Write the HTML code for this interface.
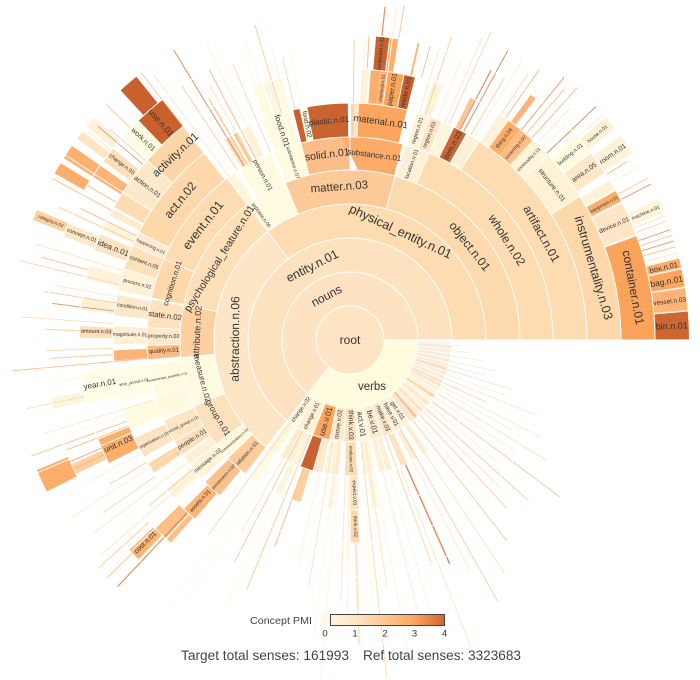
<!DOCTYPE html>
<html><head><meta charset="utf-8">
<style>
html,body{margin:0;padding:0;background:#fff;width:700px;height:680px;overflow:hidden;}
svg{display:block;overflow:hidden}
circle.s{fill:none;stroke-width:34px}
text{font-family:"Liberation Sans",Arial,sans-serif;fill:#333;text-anchor:middle;dominant-baseline:central}
line.w{stroke:#fff;stroke-width:1}
</style></head><body>
<svg width="700" height="680" viewBox="0 0 700 680" xmlns="http://www.w3.org/2000/svg">
<defs>
<linearGradient id="cg" x1="0" x2="1" y1="0" y2="0">
<stop offset="0" stop-color="#fff4de"/>
<stop offset="0.25" stop-color="#fde3c0"/>
<stop offset="0.5" stop-color="#fdc690"/>
<stop offset="0.75" stop-color="#fca259"/>
<stop offset="1" stop-color="#d0642f"/>
</linearGradient>
</defs>
<g transform="translate(350,340)">
<circle r="34" fill="#fde4c3"/>
<!-- L2 -->
<circle class="s" pathLength="360" r="51" stroke="#fffbdf" stroke-dasharray="0 0 128 360"/>
<circle class="s" pathLength="360" r="51" stroke="#fde3c1" stroke-dasharray="0 128 232 360"/>
<!-- L3 -->
<circle class="s" pathLength="360" r="85" stroke="#fde2bf" stroke-dasharray="0 128 232 360"/>
<circle class="s" pathLength="360" r="85" stroke="#fef5da" stroke-dasharray="0 121.5 6.5 360"/>
<circle class="s" pathLength="360" r="85" stroke="#fef0d2" stroke-dasharray="0 111.5 10 360"/>
<circle class="s" pathLength="360" r="85" stroke="#fca55c" stroke-dasharray="0 101.5 10 360"/>
<circle class="s" pathLength="360" r="85" stroke="#fde9cc" stroke-dasharray="0 93.5 8 360"/>
<circle class="s" pathLength="360" r="85" stroke="#fde2bf" stroke-dasharray="0 86 7.5 360"/>
<circle class="s" pathLength="360" r="85" stroke="#fff8de" stroke-dasharray="0 78.5 7.5 360"/>
<circle class="s" pathLength="360" r="85" stroke="#fdecd2" stroke-dasharray="0 71 7.5 360"/>
<circle class="s" pathLength="360" r="85" stroke="#fde5c5" stroke-dasharray="0 64.5 6.5 360"/>
<circle class="s" pathLength="360" r="85" stroke="#fdecd2" stroke-dasharray="0 59 5.5 360"/>
<circle class="s" pathLength="360" r="85" stroke="#fef2d8" stroke-dasharray="0 54 5 360"/>
<circle class="s" pathLength="360" r="85" stroke="#fde6c6" stroke-dasharray="0 51 2.5 360"/>
<circle class="s" pathLength="360" r="85" stroke="#fdc591" stroke-dasharray="0 48.5 2 360"/>
<circle class="s" pathLength="360" r="85" stroke="#fef0d4" stroke-dasharray="0 46 2 360"/>
<circle class="s" pathLength="360" r="85" stroke="#fde3c1" stroke-dasharray="0 43.5 2 360"/>
<circle class="s" pathLength="360" r="85" stroke="#fef4da" stroke-dasharray="0 41 2 360"/>
<circle class="s" pathLength="360" r="85" stroke="#fdebd0" stroke-dasharray="0 38 2.5 360"/>
<circle class="s" pathLength="360" r="85" stroke="#fef6dc" stroke-dasharray="0 35.5 2 360"/>
<circle class="s" pathLength="360" r="85" stroke="#fdd9ad" stroke-dasharray="0 33 2 360"/>
<circle class="s" pathLength="360" r="85" stroke="#fef3d8" stroke-dasharray="0 30.5 2 360"/>
<circle class="s" pathLength="360" r="85" stroke="#fdf3e6" stroke-dasharray="0 28 2 360"/>
<circle class="s" pathLength="360" r="85" stroke="#fde6c6" stroke-dasharray="0 25.5 2 360"/>
<circle class="s" pathLength="360" r="85" stroke="#f9efe3" stroke-dasharray="0 23 2 360"/>
<circle class="s" pathLength="360" r="85" stroke="#fdeed8" stroke-dasharray="0 20.5 2 360"/>
<circle class="s" pathLength="360" r="85" stroke="#f7efe6" stroke-dasharray="0 18 2 360"/>
<circle class="s" pathLength="360" r="85" stroke="#fde3c1" stroke-dasharray="0 15.5 2 360"/>
<circle class="s" pathLength="360" r="85" stroke="#f9f1e8" stroke-dasharray="0 13 2 360"/>
<circle class="s" pathLength="360" r="85" stroke="#fdecd2" stroke-dasharray="0 10.5 2 360"/>
<circle class="s" pathLength="360" r="85" stroke="#f7efe6" stroke-dasharray="0 8 2 360"/>
<circle class="s" pathLength="360" r="85" stroke="#fdf1df" stroke-dasharray="0 5.5 2 360"/>
<circle class="s" pathLength="360" r="85" stroke="#f5ede4" stroke-dasharray="0 3 2 360"/>
<circle class="s" pathLength="360" r="85" stroke="#fdf3e6" stroke-dasharray="0 0.8 1.7 360"/>
<!-- L4 -->
<circle class="s" pathLength="360" r="119" stroke="#fde6c6" stroke-dasharray="0 128 104.8 360"/>
<circle class="s" pathLength="360" r="119" stroke="#fddcb1" stroke-dasharray="0 232.8 127.2 360"/>
<circle class="s" pathLength="360" r="119" stroke="#fef7de" stroke-dasharray="0 123 4 360"/>
<circle class="s" pathLength="360" r="119" stroke="#fdf0d6" stroke-dasharray="0 118 3 360"/>
<circle class="s" pathLength="360" r="119" stroke="#fef3d8" stroke-dasharray="0 113 4.5 360"/>
<circle class="s" pathLength="360" r="119" stroke="#c9622f" stroke-dasharray="0 106 5.5 360"/>
<circle class="s" pathLength="360" r="119" stroke="#fde7c8" stroke-dasharray="0 102 3.5 360"/>
<circle class="s" pathLength="360" r="119" stroke="#fef4da" stroke-dasharray="0 98.5 2.5 360"/>
<circle class="s" pathLength="360" r="119" stroke="#fdebd0" stroke-dasharray="0 95 3 360"/>
<circle class="s" pathLength="360" r="119" stroke="#fdd9ad" stroke-dasharray="0 87 5 360"/>
<circle class="s" pathLength="360" r="119" stroke="#fff7dc" stroke-dasharray="0 80 4 360"/>
<circle class="s" pathLength="360" r="119" stroke="#fef3d8" stroke-dasharray="0 75 2.5 360"/>
<circle class="s" pathLength="360" r="119" stroke="#fdeed4" stroke-dasharray="0 72 2.5 360"/>
<circle class="s" pathLength="360" r="119" stroke="#fde3c1" stroke-dasharray="0 65 3 360"/>
<circle class="s" pathLength="360" r="119" stroke="#fef0d4" stroke-dasharray="0 60 2.5 360"/>
<circle class="s" pathLength="360" r="119" stroke="#fdf0dc" stroke-dasharray="0 55 2.5 360"/>
<!-- L5 -->
<circle class="s" pathLength="360" r="153" stroke="#fdcc9a" stroke-dasharray="0 128 8 360"/>
<circle class="s" pathLength="360" r="153" stroke="#fff8dc" stroke-dasharray="0 136 6 360"/>
<circle class="s" pathLength="360" r="153" stroke="#fde1bd" stroke-dasharray="0 142 15 360"/>
<circle class="s" pathLength="360" r="153" stroke="#fffbe0" stroke-dasharray="0 157 17 360"/>
<circle class="s" pathLength="360" r="153" stroke="#fdd0a0" stroke-dasharray="0 174 18 360"/>
<circle class="s" pathLength="360" r="153" stroke="#fde0b8" stroke-dasharray="0 192 40.8 360"/>
<circle class="s" pathLength="360" r="153" stroke="#fff5da" stroke-dasharray="0 232.8 3.2 360"/>
<circle class="s" pathLength="360" r="153" stroke="#fffbe0" stroke-dasharray="0 236 11.6 360"/>
<circle class="s" pathLength="360" r="153" stroke="#fdc997" stroke-dasharray="0 247.6 37.8 360"/>
<circle class="s" pathLength="360" r="153" stroke="#fdd9ae" stroke-dasharray="0 285.4 74.6 360"/>
<circle class="s" pathLength="360" r="153" stroke="#fde3c1" stroke-dasharray="0 87 3 360"/>
<circle class="s" pathLength="360" r="153" stroke="#fff7dc" stroke-dasharray="0 80.5 2 360"/>
<circle class="s" pathLength="360" r="153" stroke="#fdd0a0" stroke-dasharray="0 107 3 360"/>
<circle class="s" pathLength="360" r="153" stroke="#fef3d8" stroke-dasharray="0 114 2 360"/>
<circle class="s" pathLength="360" r="153" stroke="#fffbe0" stroke-dasharray="0 123.5 2 360"/>
<circle class="s" pathLength="360" r="153" stroke="#fef0d4" stroke-dasharray="0 96 1.5 360"/>
<!-- L6 -->
<circle class="s" pathLength="360" r="186.5" stroke="#fdc08a" stroke-dasharray="0 130 5.5 360"/>
<circle class="s" pathLength="360" r="186.5" stroke="#fef3d5" stroke-dasharray="0 137 5 360"/>
<circle class="s" pathLength="360" r="186.5" stroke="#fef0d4" stroke-dasharray="0 142 3 360"/>
<circle class="s" pathLength="360" r="186.5" stroke="#fde0bb" stroke-dasharray="0 145.5 4.5 360"/>
<circle class="s" pathLength="360" r="186.5" stroke="#fde6c6" stroke-dasharray="0 150 6.5 360"/>
<circle class="s" pathLength="360" r="186.5" stroke="#fff9df" stroke-dasharray="0 157 7 360"/>
<circle class="s" pathLength="360" r="186.5" stroke="#fffbe0" stroke-dasharray="0 164 9 360"/>
<circle class="s" pathLength="360" r="186.5" stroke="#fdbb82" stroke-dasharray="0 174.5 4 360"/>
<circle class="s" pathLength="360" r="186.5" stroke="#fde8c8" stroke-dasharray="0 178.5 5 360"/>
<circle class="s" pathLength="360" r="186.5" stroke="#fde2bd" stroke-dasharray="0 183.5 8 360"/>
<circle class="s" pathLength="360" r="186.5" stroke="#fdd8aa" stroke-dasharray="0 192 11.5 360"/>
<circle class="s" pathLength="360" r="186.5" stroke="#fddcb1" stroke-dasharray="0 203.5 29.3 360"/>
<circle class="s" pathLength="360" r="186.5" stroke="#fef6dc" stroke-dasharray="0 233 2.5 360"/>
<circle class="s" pathLength="360" r="186.5" stroke="#fffbe0" stroke-dasharray="0 237 10 360"/>
<circle class="s" pathLength="360" r="186.5" stroke="#fffbe0" stroke-dasharray="0 248 8 360"/>
<circle class="s" pathLength="360" r="186.5" stroke="#fdbd86" stroke-dasharray="0 256 14 360"/>
<circle class="s" pathLength="360" r="186.5" stroke="#fdab68" stroke-dasharray="0 270 15 360"/>
<circle class="s" pathLength="360" r="186.5" stroke="#fef0d6" stroke-dasharray="0 286 7 360"/>
<circle class="s" pathLength="360" r="186.5" stroke="#fddcb1" stroke-dasharray="0 293 67 360"/>
<circle class="s" pathLength="360" r="186.5" stroke="#fdd9ad" stroke-dasharray="0 87.3 2.5 360"/>
<!-- L7 -->
<circle class="s" pathLength="360" r="220" stroke="#fdb474" stroke-dasharray="0 131 3.5 360"/>
<circle class="s" pathLength="360" r="220" stroke="#fef6dc" stroke-dasharray="0 138 3 360"/>
<circle class="s" pathLength="360" r="220" stroke="#fdd6a8" stroke-dasharray="0 146 2.5 360"/>
<circle class="s" pathLength="360" r="220" stroke="#fde3c1" stroke-dasharray="0 150.5 5 360"/>
<circle class="s" pathLength="360" r="220" stroke="#fffbe0" stroke-dasharray="0 158 5 360"/>
<circle class="s" pathLength="360" r="220" stroke="#fffde6" stroke-dasharray="0 165 8 360"/>
<circle class="s" pathLength="360" r="220" stroke="#fdb476" stroke-dasharray="0 175 2.5 360"/>
<circle class="s" pathLength="360" r="220" stroke="#fef0d4" stroke-dasharray="0 179 4.5 360"/>
<circle class="s" pathLength="360" r="220" stroke="#fde9c9" stroke-dasharray="0 186 5 360"/>
<circle class="s" pathLength="360" r="220" stroke="#fef1d6" stroke-dasharray="0 192 5.5 360"/>
<circle class="s" pathLength="360" r="220" stroke="#fde1bb" stroke-dasharray="0 197.5 6 360"/>
<circle class="s" pathLength="360" r="220" stroke="#fdead0" stroke-dasharray="0 203.5 3.5 360"/>
<circle class="s" pathLength="360" r="220" stroke="#fdd8aa" stroke-dasharray="0 207 25 360"/>
<circle class="s" pathLength="360" r="220" stroke="#fde0b8" stroke-dasharray="0 238 1.5 360"/>
<circle class="s" pathLength="360" r="220" stroke="#fdc591" stroke-dasharray="0 240.5 1 360"/>
<circle class="s" pathLength="360" r="220" stroke="#fef3d8" stroke-dasharray="0 243 2 360"/>
<circle class="s" pathLength="360" r="220" stroke="#fffbe0" stroke-dasharray="0 248.5 7 360"/>
<circle class="s" pathLength="360" r="220" stroke="#c9602e" stroke-dasharray="0 256 1.7 360"/>
<circle class="s" pathLength="360" r="220" stroke="#fffbe0" stroke-dasharray="0 257.8 1.7 360"/>
<circle class="s" pathLength="360" r="220" stroke="#c9632f" stroke-dasharray="0 259.5 10 360"/>
<circle class="s" pathLength="360" r="220" stroke="#fdd3a3" stroke-dasharray="0 270.3 0.8 360"/>
<circle class="s" pathLength="360" r="220" stroke="#fde3c1" stroke-dasharray="0 271.2 0.7 360"/>
<circle class="s" pathLength="360" r="220" stroke="#fca55e" stroke-dasharray="0 272 12 360"/>
<circle class="s" pathLength="360" r="220" stroke="#fef3d8" stroke-dasharray="0 286.5 3 360"/>
<circle class="s" pathLength="360" r="220" stroke="#fde5c5" stroke-dasharray="0 289.8 3 360"/>
<circle class="s" pathLength="360" r="220" stroke="#fef6dc" stroke-dasharray="0 293 3 360"/>
<circle class="s" pathLength="360" r="220" stroke="#cc6633" stroke-dasharray="0 296 3.5 360"/>
<circle class="s" pathLength="360" r="220" stroke="#fef0d4" stroke-dasharray="0 299.8 3 360"/>
<circle class="s" pathLength="360" r="220" stroke="#fddcb1" stroke-dasharray="0 303 57 360"/>
<!-- L8 -->
<circle class="s" pathLength="360" r="254" stroke="#fdbd86" stroke-dasharray="0 131.5 1.2 360"/>
<circle class="s" pathLength="360" r="254" stroke="#fdc08a" stroke-dasharray="0 133 3 360"/>
<circle class="s" pathLength="360" r="254" stroke="#fdae6a" stroke-dasharray="0 153 5.5 360"/>
<circle class="s" pathLength="360" r="254" stroke="#fffde6" stroke-dasharray="0 166.5 7 360"/>
<circle class="s" pathLength="360" r="254" stroke="#fde0b8" stroke-dasharray="0 180.5 2.5 360"/>
<circle class="s" pathLength="360" r="254" stroke="#fef0d4" stroke-dasharray="0 186.5 2.5 360"/>
<circle class="s" pathLength="360" r="254" stroke="#fef3d8" stroke-dasharray="0 193 3 360"/>
<circle class="s" pathLength="360" r="254" stroke="#fde4c2" stroke-dasharray="0 199.5 3.5 360"/>
<circle class="s" pathLength="360" r="254" stroke="#fef6dc" stroke-dasharray="0 204 2 360"/>
<circle class="s" pathLength="360" r="254" stroke="#fdebd0" stroke-dasharray="0 207.5 1.5 360"/>
<circle class="s" pathLength="360" r="254" stroke="#fddcb1" stroke-dasharray="0 209.5 3.5 360"/>
<circle class="s" pathLength="360" r="254" stroke="#fde9c9" stroke-dasharray="0 213 8.5 360"/>
<circle class="s" pathLength="360" r="254" stroke="#fdd6a8" stroke-dasharray="0 221.5 10.5 360"/>
<circle class="s" pathLength="360" r="254" stroke="#fffbe0" stroke-dasharray="0 249 2 360"/>
<circle class="s" pathLength="360" r="254" stroke="#fef6dc" stroke-dasharray="0 251.5 1.5 360"/>
<circle class="s" pathLength="360" r="254" stroke="#fffbe0" stroke-dasharray="0 253.5 1.5 360"/>
<circle class="s" pathLength="360" r="254" stroke="#fef3d8" stroke-dasharray="0 272.5 1.5 360"/>
<circle class="s" pathLength="360" r="254" stroke="#fdae6a" stroke-dasharray="0 274.5 2 360"/>
<circle class="s" pathLength="360" r="254" stroke="#fdb476" stroke-dasharray="0 276.5 1.5 360"/>
<circle class="s" pathLength="360" r="254" stroke="#fca55c" stroke-dasharray="0 278 3.5 360"/>
<circle class="s" pathLength="360" r="254" stroke="#c9602e" stroke-dasharray="0 281.5 2.6 360"/>
<circle class="s" pathLength="360" r="254" stroke="#fef3d8" stroke-dasharray="0 288 2 360"/>
<circle class="s" pathLength="360" r="254" stroke="#fdc591" stroke-dasharray="0 296.5 1 360"/>
<circle class="s" pathLength="360" r="254" stroke="#fef3d8" stroke-dasharray="0 303.5 2.5 360"/>
<circle class="s" pathLength="360" r="254" stroke="#fdae68" stroke-dasharray="0 306 3 360"/>
<circle class="s" pathLength="360" r="254" stroke="#fdbd86" stroke-dasharray="0 309 3.5 360"/>
<circle class="s" pathLength="360" r="254" stroke="#fef4da" stroke-dasharray="0 312.5 4.5 360"/>
<circle class="s" pathLength="360" r="254" stroke="#fef1d4" stroke-dasharray="0 317 11 360"/>
<circle class="s" pathLength="360" r="254" stroke="#fdd8ab" stroke-dasharray="0 328 32 360"/>
<!-- L9 -->
<circle class="s" pathLength="360" r="288" stroke="#fdb474" stroke-dasharray="0 134 2.5 360"/>
<circle class="s" pathLength="360" r="288" stroke="#fdcf9e" stroke-dasharray="0 154 2 360"/>
<circle class="s" pathLength="360" r="288" stroke="#fef6dc" stroke-dasharray="0 167 2 360"/>
<circle class="s" pathLength="360" r="288" stroke="#fde8c8" stroke-dasharray="0 200 2.5 360"/>
<circle class="s" pathLength="360" r="288" stroke="#fdb476" stroke-dasharray="0 212.5 2.5 360"/>
<circle class="s" pathLength="360" r="288" stroke="#fde0b8" stroke-dasharray="0 216 3 360"/>
<circle class="s" pathLength="360" r="288" stroke="#fffbe0" stroke-dasharray="0 222 4 360"/>
<circle class="s" pathLength="360" r="288" stroke="#c9602e" stroke-dasharray="0 226 6 360"/>
<circle class="s" pathLength="360" r="288" stroke="#c9602e" stroke-dasharray="0 275 2.5 360"/>
<circle class="s" pathLength="360" r="288" stroke="#fdae68" stroke-dasharray="0 277.7 1.5 360"/>
<circle class="s" pathLength="360" r="288" stroke="#fdb476" stroke-dasharray="0 306.5 1 360"/>
<circle class="s" pathLength="360" r="288" stroke="#fffbe0" stroke-dasharray="0 318 4 360"/>
<circle class="s" pathLength="360" r="288" stroke="#fde8c8" stroke-dasharray="0 322.3 4.5 360"/>
<circle class="s" pathLength="360" r="288" stroke="#fef3d8" stroke-dasharray="0 328.5 2 360"/>
<circle class="s" pathLength="360" r="288" stroke="#fdae6a" stroke-dasharray="0 330.8 2.2 360"/>
<circle class="s" pathLength="360" r="288" stroke="#fde6c6" stroke-dasharray="0 333.2 6.6 360"/>
<circle class="s" pathLength="360" r="288" stroke="#fca35b" stroke-dasharray="0 340 20 360"/>
<!-- L10 -->
<circle class="s" pathLength="360" r="322" stroke="#fdae6a" stroke-dasharray="0 153.5 4 360"/>
<circle class="s" pathLength="360" r="322" stroke="#fdd0a0" stroke-dasharray="0 200.8 1.8 360"/>
<circle class="s" pathLength="360" r="322" stroke="#fdae6a" stroke-dasharray="0 209.5 2 360"/>
<circle class="s" pathLength="360" r="322" stroke="#fdb070" stroke-dasharray="0 212.5 2.5 360"/>
<circle class="s" pathLength="360" r="322" stroke="#fde6c6" stroke-dasharray="0 216.5 1.5 360"/>
<circle class="s" pathLength="360" r="322" stroke="#fef3d8" stroke-dasharray="0 219 2 360"/>
<circle class="s" pathLength="360" r="322" stroke="#c9602e" stroke-dasharray="0 227.5 3.5 360"/>
<circle class="s" pathLength="360" r="322" stroke="#fef1d4" stroke-dasharray="0 319 2.5 360"/>
<circle class="s" pathLength="360" r="322" stroke="#fef3d8" stroke-dasharray="0 323 3.5 360"/>
<circle class="s" pathLength="360" r="322" stroke="#fef6dc" stroke-dasharray="0 335.5 2.5 360"/>
<circle class="s" pathLength="360" r="322" stroke="#fdab68" stroke-dasharray="0 346 1.8 360"/>
<circle class="s" pathLength="360" r="322" stroke="#fca55c" stroke-dasharray="0 347.9 3.1 360"/>
<circle class="s" pathLength="360" r="322" stroke="#fdb476" stroke-dasharray="0 351.1 3.9 360"/>
<circle class="s" pathLength="360" r="322" stroke="#cc6633" stroke-dasharray="0 355.1 4.9 360"/>

<!-- fringe lines (thin, pale) -->
<g fill="none" opacity="0.8">
<line x1="68" x2="110" transform="rotate(3)" stroke="#f3e6d6" stroke-width="0.8"/>
<line x1="68" x2="120" transform="rotate(6)" stroke="#fde3c1" stroke-width="0.8"/>
<line x1="68" x2="135" transform="rotate(9)" stroke="#f6e5d2" stroke-width="0.8"/>
<line x1="68" x2="150" transform="rotate(12)" stroke="#fde8c8" stroke-width="1"/>
<line x1="68" x2="140" transform="rotate(14.5)" stroke="#efe4d8" stroke-width="0.8"/>
<line x1="68" x2="170" transform="rotate(17)" stroke="#fdd5a6" stroke-width="0.8"/>
<line x1="68" x2="165" transform="rotate(19.5)" stroke="#f5e8da" stroke-width="0.8"/>
<line x1="68" x2="200" transform="rotate(22)" stroke="#fde3c1" stroke-width="1"/>
<line x1="68" x2="150" transform="rotate(24.5)" stroke="#fdc591" stroke-width="0.8"/>
<line x1="68" x2="215" transform="rotate(27)" stroke="#fde3c1" stroke-width="0.9"/>
<line x1="68" x2="185" transform="rotate(29)" stroke="#f6e3cc" stroke-width="0.8"/>
<line x1="102" x2="230" transform="rotate(31.5)" stroke="#fdd9ad" stroke-width="1"/>
<line x1="102" x2="200" transform="rotate(34)" stroke="#fdebd0" stroke-width="1"/>
<line x1="102" x2="262" transform="rotate(36.8)" stroke="#fdc08a" stroke-width="1"/>
<line x1="102" x2="190" transform="rotate(39.5)" stroke="#fef0d4" stroke-width="1.2"/>
<line x1="102" x2="240" transform="rotate(42)" stroke="#fdb476" stroke-width="0.8"/>
<line x1="102" x2="210" transform="rotate(44.5)" stroke="#fde3c1" stroke-width="1.2"/>
<line x1="102" x2="230" transform="rotate(47)" stroke="#fdd0a0" stroke-width="1.2"/>
<line x1="102" x2="180" transform="rotate(49.5)" stroke="#fef3d8" stroke-width="1.2"/>
<line x1="102" x2="255" transform="rotate(52)" stroke="#fdc08a" stroke-width="1"/>
<line x1="102" x2="280" transform="rotate(56.5)" stroke="#fde3c1" stroke-width="1.2"/>
<line x1="102" x2="300" transform="rotate(60.5)" stroke="#fdc591" stroke-width="1"/>
<line x1="102" x2="260" transform="rotate(62.5)" stroke="#fdead0" stroke-width="1.2"/>
<line x1="136" x2="245" transform="rotate(66)" stroke="#d9753c" stroke-width="1.5"/>
<line x1="136" x2="330" transform="rotate(68.5)" stroke="#fde3c1" stroke-width="1"/>
<line x1="102" x2="240" transform="rotate(70)" stroke="#fdd5a6" stroke-width="1.2"/>
<line x1="102" x2="300" transform="rotate(73.5)" stroke="#fef3d8" stroke-width="1.2"/>
<line x1="102" x2="280" transform="rotate(76)" stroke="#fdebd0" stroke-width="1.2"/>
<line x1="102" x2="330" transform="rotate(79.5)" stroke="#fdf5e0" stroke-width="1.2"/>
<line x1="102" x2="250" transform="rotate(81.5)" stroke="#fde6c6" stroke-width="1.5"/>
<line x1="102" x2="339" transform="rotate(83.8)" stroke="#fdd0a0" stroke-width="0.9"/>
<line x1="170" x2="305" transform="rotate(85)" stroke="#fffbe0" stroke-width="2"/>
<line x1="203" x2="305" transform="rotate(88.3)" stroke="#fde3c1" stroke-width="2.5"/>
<line x1="102" x2="280" transform="rotate(90.5)" stroke="#fef0d4" stroke-width="1.2"/>
<line x1="102" x2="260" transform="rotate(92)" stroke="#fde0b8" stroke-width="1"/>
<line x1="102" x2="339" transform="rotate(95)" stroke="#fef6dc" stroke-width="1"/>
<line x1="102" x2="305" transform="rotate(97)" stroke="#fffbe0" stroke-width="1.2"/>
<line x1="102" x2="250" transform="rotate(99.5)" stroke="#fde3c1" stroke-width="1.2"/>
<line x1="102" x2="230" transform="rotate(103)" stroke="#fef3d8" stroke-width="1.2"/>
<line x1="136" x2="220" transform="rotate(110)" stroke="#fdad6b" stroke-width="1"/>
<line x1="102" x2="270" transform="rotate(112.5)" stroke="#fdc08a" stroke-width="1"/>
<line x1="102" x2="300" transform="rotate(115)" stroke="#fffbe0" stroke-width="1.2"/>
<line x1="102" x2="250" transform="rotate(117.5)" stroke="#fdad6b" stroke-width="0.8"/>
<line x1="102" x2="220" transform="rotate(119.5)" stroke="#fde3c1" stroke-width="1.2"/>
<line x1="102" x2="305" transform="rotate(122)" stroke="#fffbe0" stroke-width="1.2"/>
<line x1="102" x2="330" transform="rotate(124)" stroke="#fffbe0" stroke-width="1"/>
<line x1="102" x2="240" transform="rotate(126)" stroke="#fdd0a0" stroke-width="1"/>
<!-- lower-left -->
<line x1="237" x2="339" transform="rotate(133.3)" stroke="#d9753c" stroke-width="1.2"/>
<line x1="237" x2="339" transform="rotate(135.6)" stroke="#fdb476" stroke-width="1"/>
<line x1="271" x2="339" transform="rotate(137.8)" stroke="#fdc591" stroke-width="1"/>
<line x1="203" x2="300" transform="rotate(136.5)" stroke="#fffbe0" stroke-width="1.2"/>
<line x1="203" x2="330" transform="rotate(139.2)" stroke="#fde3c1" stroke-width="1"/>
<line x1="203" x2="260" transform="rotate(140.5)" stroke="#fdb070" stroke-width="0.8"/>
<line x1="203" x2="320" transform="rotate(143)" stroke="#fde6c6" stroke-width="1.2"/>
<line x1="237" x2="300" transform="rotate(145)" stroke="#fdd0a0" stroke-width="1"/>
<line x1="203" x2="330" transform="rotate(147.5)" stroke="#fdead0" stroke-width="1"/>
<line x1="237" x2="280" transform="rotate(149)" stroke="#fdc591" stroke-width="1"/>
<line x1="237" x2="300" transform="rotate(151.5)" stroke="#fef0d4" stroke-width="1"/>
<line x1="271" x2="305" transform="rotate(155)" stroke="#fdad6b" stroke-width="1"/>
<line x1="271" x2="305" transform="rotate(156.5)" stroke="#d9753c" stroke-width="0.8"/>
<line x1="237" x2="305" transform="rotate(158.8)" stroke="#fdb070" stroke-width="1"/>
<line x1="237" x2="339" transform="rotate(160)" stroke="#fdc591" stroke-width="1.2"/>
<line x1="237" x2="300" transform="rotate(161.5)" stroke="#fef3d8" stroke-width="1"/>
<line x1="203" x2="320" transform="rotate(163)" stroke="#fde3c1" stroke-width="1"/>
<line x1="271" x2="330" transform="rotate(168)" stroke="#fdd0a0" stroke-width="0.8"/>
<line x1="271" x2="300" transform="rotate(172)" stroke="#fef6dc" stroke-width="1"/>
<line x1="203" x2="339" transform="rotate(174.8)" stroke="#fdb476" stroke-width="1"/>
<line x1="237" x2="300" transform="rotate(176.5)" stroke="#fdc08a" stroke-width="1"/>
<line x1="237" x2="305" transform="rotate(178)" stroke="#fdd0a0" stroke-width="1"/>
<!-- upper-left -->
<line x1="237" x2="305" transform="rotate(182)" stroke="#fdc591" stroke-width="1"/>
<line x1="237" x2="330" transform="rotate(184)" stroke="#fdd0a0" stroke-width="0.8"/>
<line x1="237" x2="300" transform="rotate(187)" stroke="#d9753c" stroke-width="0.8"/>
<line x1="237" x2="310" transform="rotate(189)" stroke="#fdc08a" stroke-width="1"/>
<line x1="237" x2="300" transform="rotate(190.5)" stroke="#fde3c1" stroke-width="1"/>
<line x1="237" x2="339" transform="rotate(193.5)" stroke="#fdd0a0" stroke-width="1"/>
<line x1="271" x2="320" transform="rotate(195)" stroke="#fdb476" stroke-width="1"/>
<line x1="237" x2="330" transform="rotate(197)" stroke="#fde0b8" stroke-width="1"/>
<line x1="237" x2="320" transform="rotate(204.5)" stroke="#fdc591" stroke-width="1"/>
<line x1="237" x2="300" transform="rotate(206)" stroke="#fdb476" stroke-width="1"/>
<line x1="271" x2="339" transform="rotate(208.5)" stroke="#fdb476" stroke-width="1"/>
<line x1="271" x2="305" transform="rotate(210.5)" stroke="#fdbd86" stroke-width="1.2"/>
<line x1="271" x2="335" transform="rotate(218.5)" stroke="#fde3c1" stroke-width="1"/>
<line x1="271" x2="330" transform="rotate(220.3)" stroke="#d9753c" stroke-width="0.8"/>
<line x1="271" x2="320" transform="rotate(221.3)" stroke="#fdc591" stroke-width="1"/>
<line x1="305" x2="339" transform="rotate(224)" stroke="#fdb070" stroke-width="0.8"/>
<line x1="271" x2="339" transform="rotate(232)" stroke="#fdb070" stroke-width="0.8"/>
<!-- top -->
<line x1="203" x2="330" transform="rotate(233.5)" stroke="#fde3c1" stroke-width="1"/>
<line x1="170" x2="300" transform="rotate(234.8)" stroke="#fffbe0" stroke-width="1"/>
<line x1="203" x2="305" transform="rotate(236.5)" stroke="#fdc591" stroke-width="1"/>
<line x1="203" x2="339" transform="rotate(238.7)" stroke="#d9753c" stroke-width="1"/>
<line x1="203" x2="280" transform="rotate(239.7)" stroke="#fdad6b" stroke-width="1.2"/>
<line x1="203" x2="290" transform="rotate(241.2)" stroke="#fde0b8" stroke-width="1"/>
<line x1="203" x2="305" transform="rotate(242.5)" stroke="#fdad6b" stroke-width="1"/>
<line x1="203" x2="330" transform="rotate(244.2)" stroke="#fef0d4" stroke-width="1"/>
<line x1="237" x2="330" transform="rotate(245.5)" stroke="#fffbe0" stroke-width="1"/>
<line x1="203" x2="300" transform="rotate(247)" stroke="#fdc591" stroke-width="0.8"/>
<line x1="237" x2="300" transform="rotate(249.7)" stroke="#fffbe0" stroke-width="1.2"/>
<line x1="237" x2="320" transform="rotate(250.8)" stroke="#fef6dc" stroke-width="1"/>
<line x1="237" x2="305" transform="rotate(252.2)" stroke="#fffbe0" stroke-width="1.2"/>
<line x1="237" x2="330" transform="rotate(253.2)" stroke="#fdb476" stroke-width="0.8"/>
<line x1="237" x2="300" transform="rotate(255)" stroke="#fef0d4" stroke-width="1"/>
<line x1="237" x2="290" transform="rotate(256.6)" stroke="#fdc591" stroke-width="0.8"/>
<line x1="237" x2="300" transform="rotate(258.2)" stroke="#fffbe0" stroke-width="1.2"/>
<line x1="237" x2="300" transform="rotate(270.8)" stroke="#fdc08a" stroke-width="1"/>
<line x1="271" x2="300" transform="rotate(272.8)" stroke="#fef0d4" stroke-width="1"/>
<line x1="271" x2="305" transform="rotate(273.6)" stroke="#fdad6b" stroke-width="1"/>
<line x1="305" x2="335" transform="rotate(276)" stroke="#d9753c" stroke-width="1.2"/>
<line x1="305" x2="336" transform="rotate(278)" stroke="#fdad6b" stroke-width="1.2"/>
<line x1="305" x2="339" transform="rotate(279.2)" stroke="#fdc591" stroke-width="1.2"/>
<line x1="271" x2="305" transform="rotate(283)" stroke="#fca55c" stroke-width="2"/>
<line x1="271" x2="305" transform="rotate(285.3)" stroke="#d9753c" stroke-width="1"/>
<line x1="237" x2="305" transform="rotate(287)" stroke="#fde3c1" stroke-width="1"/>
<line x1="237" x2="320" transform="rotate(288.5)" stroke="#fdc591" stroke-width="1"/>
<line x1="237" x2="305" transform="rotate(290.2)" stroke="#fffbe0" stroke-width="1.2"/>
<line x1="237" x2="305" transform="rotate(291.6)" stroke="#fef0d4" stroke-width="1.2"/>
<line x1="237" x2="330" transform="rotate(293.6)" stroke="#fde3c1" stroke-width="1"/>
<line x1="237" x2="339" transform="rotate(294.6)" stroke="#fdd0a0" stroke-width="1"/>
<line x1="237" x2="305" transform="rotate(297.6)" stroke="#d9753c" stroke-width="1.2"/>
<line x1="237" x2="330" transform="rotate(298.6)" stroke="#d9753c" stroke-width="1"/>
<line x1="237" x2="305" transform="rotate(300.5)" stroke="#fdc591" stroke-width="1"/>
<line x1="237" x2="330" transform="rotate(301.6)" stroke="#fef0d4" stroke-width="1"/>
<!-- right -->
<line x1="271" x2="320" transform="rotate(303.8)" stroke="#fdd0a0" stroke-width="1"/>
<line x1="271" x2="330" transform="rotate(305)" stroke="#fdad6b" stroke-width="1"/>
<line x1="271" x2="305" transform="rotate(307.5)" stroke="#fdb476" stroke-width="1.2"/>
<line x1="271" x2="339" transform="rotate(309.2)" stroke="#d9753c" stroke-width="0.8"/>
<line x1="271" x2="330" transform="rotate(310.5)" stroke="#fdb476" stroke-width="1"/>
<line x1="271" x2="339" transform="rotate(312)" stroke="#fdad6b" stroke-width="1"/>
<line x1="271" x2="320" transform="rotate(313.5)" stroke="#fde3c1" stroke-width="1"/>
<line x1="271" x2="305" transform="rotate(315)" stroke="#fef0d4" stroke-width="1.2"/>
<line x1="271" x2="339" transform="rotate(316.5)" stroke="#d9753c" stroke-width="1"/>
<line x1="305" x2="339" transform="rotate(318.3)" stroke="#fef0d4" stroke-width="1.2"/>
<line x1="305" x2="330" transform="rotate(327.2)" stroke="#fdad6b" stroke-width="1"/>
<line x1="305" x2="339" transform="rotate(329)" stroke="#fef3d8" stroke-width="1.2"/>
<line x1="305" x2="339" transform="rotate(331.5)" stroke="#fdc591" stroke-width="1"/>
<line x1="305" x2="339" transform="rotate(332.6)" stroke="#d9753c" stroke-width="0.8"/>
<line x1="305" x2="339" transform="rotate(338.5)" stroke="#fde3c1" stroke-width="1"/>
<line x1="305" x2="339" transform="rotate(339.4)" stroke="#fdc591" stroke-width="0.8"/>
<line x1="305" x2="339" transform="rotate(341)" stroke="#d9753c" stroke-width="0.8"/>
<line x1="305" x2="339" transform="rotate(342)" stroke="#fdad6b" stroke-width="0.8"/>
<line x1="305" x2="339" transform="rotate(343)" stroke="#d9753c" stroke-width="0.8"/>
<line x1="305" x2="339" transform="rotate(344)" stroke="#fdb476" stroke-width="1"/>
<line x1="305" x2="339" transform="rotate(345.1)" stroke="#fde3c1" stroke-width="1"/>
</g>

<!-- ring borders -->
<g fill="none" stroke="#fff" stroke-width="1">
<circle r="34"/><circle r="68"/><circle r="102"/><circle r="136"/><circle r="170"/><circle r="203"/><circle r="237"/><circle r="271"/><circle r="305"/>
</g>
<!-- radial separators -->
<line class="w" x1="34" x2="339" transform="rotate(0)"/>
<line class="w" x1="34" x2="339" transform="rotate(128)"/>
<line class="w" x1="102" x2="339" transform="rotate(232.8)"/>
<line class="w" x1="68" x2="339" transform="rotate(121.5)"/>
<line class="w" x1="68" x2="339" transform="rotate(111.5)"/>
<line class="w" x1="68" x2="339" transform="rotate(101.5)"/>
<line class="w" x1="68" x2="339" transform="rotate(93.5)"/>
<line class="w" x1="68" x2="339" transform="rotate(86)"/>
<line class="w" x1="68" x2="339" transform="rotate(78.5)"/>
<line class="w" x1="68" x2="339" transform="rotate(71)"/>
<line class="w" x1="68" x2="339" transform="rotate(64.5)"/>
<line class="w" x1="68" x2="339" transform="rotate(59)"/>
<line class="w" x1="68" x2="339" transform="rotate(54)"/>
<line class="w" x1="136" x2="339" transform="rotate(136)"/>
<line class="w" x1="136" x2="339" transform="rotate(142)"/>
<line class="w" x1="136" x2="339" transform="rotate(157)"/>
<line class="w" x1="136" x2="339" transform="rotate(174)"/>
<line class="w" x1="136" x2="339" transform="rotate(192)"/>
<line class="w" x1="136" x2="339" transform="rotate(236)"/>
<line class="w" x1="136" x2="339" transform="rotate(247.6)"/>
<line class="w" x1="136" x2="339" transform="rotate(285.4)"/>
<line class="w" x1="170" x2="339" transform="rotate(145.5)"/>
<line class="w" x1="170" x2="339" transform="rotate(150)"/>
<line class="w" x1="170" x2="339" transform="rotate(164)"/>
<line class="w" x1="170" x2="339" transform="rotate(178.5)"/>
<line class="w" x1="170" x2="339" transform="rotate(183.5)"/>
<line class="w" x1="170" x2="339" transform="rotate(203.5)"/>
<line class="w" x1="170" x2="339" transform="rotate(256)"/>
<line class="w" x1="170" x2="339" transform="rotate(270)"/>
<line class="w" x1="170" x2="339" transform="rotate(293)"/>
<line class="w" x1="203" x2="339" transform="rotate(197.5)"/>
<line class="w" x1="203" x2="339" transform="rotate(207)"/>
<line class="w" x1="203" x2="339" transform="rotate(259.5)"/>
<line class="w" x1="203" x2="339" transform="rotate(272)"/>
<line class="w" x1="203" x2="339" transform="rotate(284)"/>
<line class="w" x1="203" x2="339" transform="rotate(296)"/>
<line class="w" x1="203" x2="339" transform="rotate(299.5)"/>
<line class="w" x1="203" x2="339" transform="rotate(303)"/>
<line class="w" x1="237" x2="339" transform="rotate(213)"/>
<line class="w" x1="237" x2="339" transform="rotate(221.5)"/>
<line class="w" x1="237" x2="339" transform="rotate(278)"/>
<line class="w" x1="237" x2="339" transform="rotate(281.5)"/>
<line class="w" x1="237" x2="339" transform="rotate(317)"/>
<line class="w" x1="237" x2="339" transform="rotate(328)"/>
<line class="w" x1="271" x2="339" transform="rotate(226)"/>
<line class="w" x1="271" x2="339" transform="rotate(333.2)"/>
<line class="w" x1="271" x2="339" transform="rotate(340)"/>
<line class="w" x1="305" x2="339" transform="rotate(346)"/>
<line class="w" x1="305" x2="339" transform="rotate(347.9)"/>
<line class="w" x1="305" x2="339" transform="rotate(351.1)"/>
<line class="w" x1="305" x2="339" transform="rotate(355.1)"/>

<!-- labels -->
<text x="0" y="0" font-size="12">root</text>
<text x="22" y="47" font-size="11.5">verbs</text>
<text transform="rotate(242) translate(50) rotate(90)" font-size="12">nouns</text>
<text transform="rotate(243) translate(83) rotate(90)" font-size="12.5">entity.n.01</text>
<text transform="rotate(295) translate(120) rotate(90)" font-size="12.8">physical_entity.n.01</text>
<text transform="rotate(180.5) translate(115) rotate(90)" font-size="12">abstraction.n.06</text>
<text transform="rotate(266) translate(153) rotate(90)" font-size="11.5">matter.n.03</text>
<text transform="rotate(322) translate(152) rotate(90)" font-size="12">object.n.01</text>
<text transform="rotate(327.5) translate(186) rotate(90)" font-size="12">whole.n.02</text>
<text transform="rotate(331) translate(219) rotate(90)" font-size="12">artifact.n.01</text>
<text transform="rotate(343.5) translate(254) rotate(90)" font-size="12.5">instrumentality.n.03</text>
<text transform="rotate(349.5) translate(288) rotate(90)" font-size="12">container.n.01</text>
<text transform="rotate(357.5) translate(322)" font-size="9">bin.n.01</text>
<text transform="rotate(353.2) translate(322)" font-size="6.5">vessel.n.03</text>
<text transform="rotate(349.5) translate(322)" font-size="8.5">bag.n.01</text>
<text transform="rotate(347) translate(322)" font-size="7.5">box.n.01</text>
<text transform="rotate(336.6) translate(288)" font-size="6.3">device.n.01</text>
<text transform="rotate(336.8) translate(322)" font-size="5">machine.n.01</text>
<text transform="rotate(324.8) translate(322)" font-size="6.8">room.n.01</text>
<text transform="rotate(320.3) translate(322)" font-size="5">house.n.01</text>
<text transform="rotate(324.5) translate(288)" font-size="6.8">area.n.05</text>
<text transform="rotate(320) translate(288)" font-size="5.5">building.n.01</text>
<text transform="rotate(331.9) translate(288)" font-size="4.5">equipment.n.01</text>
<text transform="rotate(322.5) translate(254) rotate(90)" font-size="6.5">structure.n.01</text>
<text transform="rotate(314.7) translate(254)" font-size="4.5">commodity.n.01</text>
<text transform="rotate(310.8) translate(254)" font-size="5">covering.n.02</text>
<text transform="rotate(307.5) translate(254)" font-size="5.5">thing.n.04</text>
<text transform="rotate(297.8) translate(220)" font-size="7.5">item.n.03</text>
<text transform="rotate(289.5) translate(186.5)" font-size="5.5">location.n.01</text>
<text transform="rotate(291.3) translate(220)" font-size="5.5">region.n.03</text>
<text transform="rotate(288) translate(220)" font-size="5.5">region.n.01</text>
<text transform="rotate(263) translate(186.5) rotate(90)" font-size="10.5">solid.n.01</text>
<text transform="rotate(277.5) translate(186.5) rotate(90)" font-size="8">substance.n.01</text>
<text transform="rotate(264.5) translate(220) rotate(90)" font-size="8">plastic.n.01</text>
<text transform="rotate(278) translate(220) rotate(90)" font-size="9.5">material.n.01</text>
<text transform="rotate(258.6) translate(220) rotate(180)" font-size="6.5">food.n.02</text>
<text transform="rotate(252) translate(220) rotate(180)" font-size="8">food.n.01</text>
<text transform="rotate(252) translate(186.5) rotate(180)" font-size="5">substance.n.07</text>
<text transform="rotate(242) translate(186.5) rotate(180)" font-size="6.5">person.n.01</text>
<text transform="rotate(234.4) translate(153) rotate(180)" font-size="5">process.n.06</text>
<text transform="rotate(279.7) translate(254)" font-size="7">paper.n.01</text>
<text transform="rotate(282.8) translate(254)" font-size="6.5">waste.n.01</text>
<text transform="rotate(277.2) translate(254)" font-size="4.5">chemical.n.01</text>
<text transform="rotate(276.2) translate(288)" font-size="5">cardboard.n.01</text>
<text transform="rotate(212) translate(153) rotate(90)" font-size="10.4">psychological_feature.n.01</text>
<text transform="rotate(218) translate(186.5) rotate(90)" font-size="12.4">event.n.01</text>
<text transform="rotate(219.5) translate(220) rotate(90)" font-size="12">act.n.02</text>
<text transform="rotate(226.7) translate(254) rotate(90)" font-size="11.3">activity.n.01</text>
<text transform="rotate(217) translate(254) rotate(180)" font-size="6.5">action.n.01</text>
<text transform="rotate(229) translate(288) rotate(180)" font-size="8.8">use.n.01</text>
<text transform="rotate(224) translate(288) rotate(180)" font-size="7">work.n.01</text>
<text transform="rotate(217.5) translate(288) rotate(180)" font-size="5.5">change.n.03</text>
<text transform="rotate(197.7) translate(186.5) rotate(90)" font-size="7.5">cognition.n.01</text>
<text transform="rotate(200.5) translate(220) rotate(180)" font-size="5.5">content.n.05</text>
<text transform="rotate(201.2) translate(254) rotate(180)" font-size="8">idea.n.01</text>
<text transform="rotate(201.2) translate(288) rotate(180)" font-size="5.5">concept.n.01</text>
<text transform="rotate(201.7) translate(322) rotate(180)" font-size="4.5">category.n.02</text>
<text transform="rotate(205.2) translate(220) rotate(180)" font-size="4.5">happening.n.01</text>
<text transform="rotate(194.7) translate(220) rotate(180)" font-size="5">process.n.02</text>
<text transform="rotate(183) translate(153) rotate(90)" font-size="9">attribute.n.02</text>
<text transform="rotate(187.5) translate(186.5) rotate(180)" font-size="7.7">state.n.02</text>
<text transform="rotate(181) translate(186.5) rotate(180)" font-size="5.5">property.n.02</text>
<text transform="rotate(176.5) translate(186.5) rotate(180)" font-size="6">quality.n.01</text>
<text transform="rotate(188.5) translate(220) rotate(180)" font-size="5">condition.n.01</text>
<text transform="rotate(181.3) translate(220) rotate(180)" font-size="5">magnitude.n.01</text>
<text transform="rotate(181.8) translate(254) rotate(180)" font-size="5.5">amount.n.03</text>
<text transform="rotate(165.5) translate(153) rotate(-90)" font-size="8">measure.n.02</text>
<text transform="rotate(170) translate(254) rotate(180)" font-size="8">year.n.01</text>
<text transform="rotate(169) translate(220) rotate(180)" font-size="4">time_period.n.01</text>
<text transform="rotate(168.5) translate(186.5) rotate(180)" font-size="3.5">fundamental_quantity.n.01</text>
<text transform="rotate(149.5) translate(153) rotate(-90)" font-size="8.5">group.n.01</text>
<text transform="rotate(147.7) translate(186.5) rotate(180)" font-size="6.4">people.n.01</text>
<text transform="rotate(153.2) translate(186.5) rotate(180)" font-size="4.3">social_group.n.01</text>
<text transform="rotate(153) translate(220) rotate(180)" font-size="4.3">organization.n.01</text>
<text transform="rotate(155.8) translate(254) rotate(180)" font-size="8">unit.n.03</text>
<text transform="rotate(139.5) translate(186.5) rotate(180)" font-size="5.5">message.n.02</text>
<text transform="rotate(132) translate(153) rotate(180)" font-size="5.5">relation.n.01</text>
<text transform="rotate(139) translate(153) rotate(180)" font-size="4">communication.n.02</text>
<text transform="rotate(132.8) translate(186.5) rotate(180)" font-size="4.5">possession.n.02</text>
<text transform="rotate(132.8) translate(220) rotate(180)" font-size="5.5">assets.n.01</text>
<text transform="rotate(135.2) translate(288) rotate(180)" font-size="7">cost.n.01</text>
<text transform="rotate(124.8) translate(85) rotate(180)" font-size="5.5">change.v.02</text>
<text transform="rotate(116.5) translate(85) rotate(180)" font-size="5.5">change.v.01</text>
<text transform="rotate(106.5) translate(85) rotate(180)" font-size="8">use.v.01</text>
<text transform="rotate(97.5) translate(85) rotate(180)" font-size="6.5">move.v.02</text>
<text transform="rotate(89.8) translate(85)" font-size="7">think.v.03</text>
<text transform="rotate(82.2) translate(85)" font-size="7.5">act.v.01</text>
<text transform="rotate(74.7) translate(85)" font-size="7.5">be.v.01</text>
<text transform="rotate(67.7) translate(85)" font-size="6">make.v.03</text>
<text transform="rotate(61.7) translate(85)" font-size="6">have.v.01</text>
<text transform="rotate(56.5) translate(85)" font-size="6">get.v.01</text>
<text transform="rotate(89.5) translate(119)" font-size="4.5">evaluate.v.02</text>
<text transform="rotate(88.5) translate(153)" font-size="5">expect.v.01</text>
<text transform="rotate(88.5) translate(186.5)" font-size="5">think.v.02</text>
</g>

<!-- colorbar -->
<text x="281" y="621" font-size="10.5" style="fill:#444" textLength="62" lengthAdjust="spacingAndGlyphs">Concept PMI</text>
<rect x="322" y="614" width="9" height="11" fill="#fff8e4"/>
<rect x="330.5" y="614.5" width="114" height="11" fill="url(#cg)" stroke="#444" stroke-width="1"/>
<g font-size="9.5" style="fill:#444">
<text x="325" y="634">0</text>
<text x="355" y="634">1</text>
<text x="385" y="634">2</text>
<text x="414.5" y="634">3</text>
<text x="444.5" y="634">4</text>
</g>
<text x="181" y="655.5" font-size="13.5" style="fill:#444;text-anchor:start" textLength="168" lengthAdjust="spacingAndGlyphs">Target total senses: 161993</text>
<text x="363" y="655.5" font-size="13.5" style="fill:#444;text-anchor:start" textLength="158" lengthAdjust="spacingAndGlyphs">Ref total senses: 3323683</text>
</svg>
</body></html>
